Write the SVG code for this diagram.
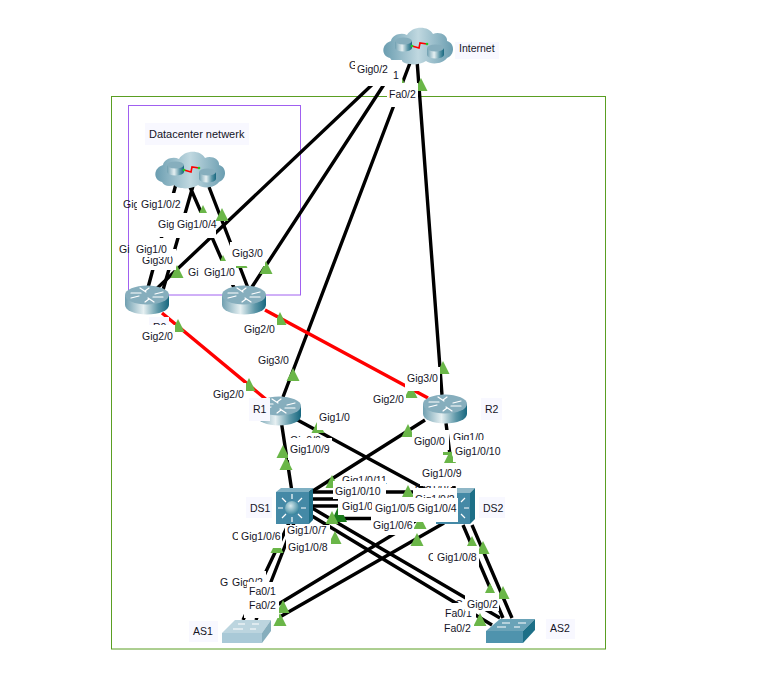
<svg xmlns="http://www.w3.org/2000/svg" width="767" height="685" viewBox="0 0 767 685">
<style>
text{font-family:"Liberation Sans",Arial,sans-serif;font-size:10.5px;fill:#14141f}
.k{stroke:#000;stroke-width:3.4;fill:none}
.r{stroke:#f00;stroke-width:3.4;fill:none}
.w{fill:#fff}
.n{fill:#f8f8ff}
.g{fill:#6ab648}
.a{stroke:#fff;stroke-width:1.200;fill:none}
</style>
<defs>
<linearGradient id="cyl" x1="0" x2="1" y1="0" y2="0"><stop offset="0" stop-color="#6f9fb0"/><stop offset=".42" stop-color="#e6f0f2"/><stop offset=".75" stop-color="#5d97a8"/><stop offset="1" stop-color="#17677f"/></linearGradient>
<linearGradient id="cl" x1="0" x2="1" y1="0" y2="0"><stop offset="0" stop-color="#6a9db0"/><stop offset=".5" stop-color="#c0d8e0"/><stop offset="1" stop-color="#6a9db0"/></linearGradient>
<radialGradient id="sp" cx=".4" cy=".35" r=".7"><stop offset="0" stop-color="#d8eaee"/><stop offset="1" stop-color="#2f7f98"/></radialGradient>
<path id="t" class="g" d="M0-7L6.500 6H-6.500Z"/>
<g id="rt">
<path d="M0 10V20A22 9.500 0 0 0 44 20V10Z" fill="url(#cyl)"/>
<ellipse cx="22" cy="10" rx="22" ry="9.500" fill="#86aebd"/>
<path class="a" d="M6 13L14 11M38 7L30 9M15 3L21 7M29 17L23 13M24 3L20 6M20 17L24 14M6 8H16M28 12H38" stroke-linecap="round"/>
</g>
<g id="mr">
<path d="M0 4V11A8.500 3.500 0 0 0 17 11V4Z" fill="url(#cyl)"/><ellipse cx="8.500" cy="4" rx="8.500" ry="3.500" fill="#86aebd"/>
</g>
<g id="cloud">
<path d="M7 32C-2 30-2 18 8 15C9 9 18 6 24 9C29 0 45-1 50 8C56 5 65 9 64 15C72 17 72 29 64 32C60 38 48 39 43 35C36 40 22 39 19 35C14 37 9 36 7 32Z" fill="url(#cl)"/>
<use href="#mr" x="12" y="11"/><use href="#mr" x="44" y="18"/>
<path d="M29 20L36 22L37 17L44 18" stroke="#f00" stroke-width="1.600" fill="none"/>
<circle cx="29" cy="20" r="1.300" fill="#2c2"/><circle cx="44" cy="18" r="1.300" fill="#2c2"/>
</g>
<g id="arrows"><path class="a" d="M0-14V-9M0 9V14M-14 0H-9M9 0H14M-10-10L-6-6M10-10L6-6M-10 10L-6 6M10 10L6 6" stroke-width="1.600"/></g>
</defs>
<rect x="111.500" y="96.500" width="494" height="552.500" fill="none" stroke="#5a9e22"/>
<rect x="128.500" y="105.500" width="172" height="189.500" fill="none" stroke="#a060f0"/>
<g id="connectors">
<path class="k" d="M395 63L150 295M398 63L250 290M413 55L283 397M417 60L442 395"/>
<path class="k" d="M176 184L146 295M193 186L163 290M190 187L235 290M209 187L248 288"/>
<path class="r" d="M162 313L268 401M265 310L428 398"/>
<path class="k" d="M281 420L292 492M292 417L445 500M425 420L308 494M446 423L455 495"/>
<path class="k" d="M310 492H440M310 499H440M310 506H440M335 518.500H440"/>
<path class="k" d="M312 508L500 618M312 516L492 625M445 503L272 608M444 523L278 618"/>
<path class="k" d="M289 523L243 620M294 523L256 620M463 525L503 618M472 525L512 618"/>
</g>
<g id="markers">
<use href="#t" x="421" y="85"/><use href="#t" x="402" y="85"/>
<use href="#t" x="203" y="212"/><use href="#t" x="222" y="215"/>
<use href="#t" x="177" y="272"/><use href="#t" x="223" y="262"/><use href="#t" x="241" y="262"/><use href="#t" x="266" y="268"/>
<use href="#t" x="280" y="319"/><use href="#t" x="178" y="326"/>
<use href="#t" x="249" y="385"/><use href="#t" x="293" y="375"/><use href="#t" x="318" y="427"/><use href="#t" x="283" y="452"/><use href="#t" x="286" y="464"/>
<use href="#t" x="443" y="368"/><use href="#t" x="411" y="392"/><use href="#t" x="408" y="431"/>
<path class="g" d="M443 452H452V455H443ZM448 458H455V463H448Z"/>
<use href="#t" x="332" y="482"/><path d="M339 505L347 522H331Z" fill="#1a7a1a"/><use href="#t" x="332" y="518"/><use href="#t" x="335" y="538"/>
<use href="#t" x="450" y="458"/><use href="#t" x="408" y="492"/><use href="#t" x="420" y="523"/><use href="#t" x="417" y="540"/><use href="#t" x="472" y="543"/><use href="#t" x="483" y="548"/>
<use href="#t" x="277" y="547"/><use href="#t" x="283" y="607"/><use href="#t" x="280" y="620"/>
<use href="#t" x="490" y="590"/><use href="#t" x="503" y="593"/><use href="#t" x="480" y="620"/>
</g>
<g id="Internet"><use href="#cloud" x="383" y="26"/><rect class="n" x="455" y="42" width="44" height="17"/><text x="459" y="52">Internet</text></g>
<g id="Datacenter"><use href="#cloud" x="155" y="150"/><rect class="n" x="145" y="123" width="104" height="22"/><text x="149" y="138" style="font-size:11px">Datacenter netwerk</text></g>
<g id="R0"><use href="#rt" x="125" y="285"/><rect class="n" x="149" y="317" width="20" height="12"/><text x="153" y="331">R0</text></g>
<g id="R3"><use href="#rt" x="222" y="285"/></g>
<g id="R1"><use href="#rt" x="257" y="396"/><rect class="n" x="249" y="398" width="21" height="23"/><text x="253" y="413">R1</text></g>
<g id="R2"><use href="#rt" x="423" y="394"/><rect class="n" x="481" y="398" width="21" height="22"/><text x="485" y="413">R2</text></g>
<g id="DS1"><path d="M276 492L281 488H313L309 492Z" fill="#7fb0c3"/><path d="M309 492L313 488V520L309 524Z" fill="#1d6f87"/><rect x="276" y="492" width="33" height="32" fill="#4489a6"/><use href="#arrows" x="292" y="508"/><circle cx="292" cy="508" r="7" fill="url(#sp)"/><rect class="n" x="246" y="497" width="26" height="21"/><text x="250" y="512">DS1</text></g>
<g id="DS2"><path d="M436 493L441 488H475L470 493Z" fill="#8fb7c7"/><path d="M470 493L475 488V519L470 524Z" fill="#1d6f87"/><rect x="436" y="493" width="34" height="31" fill="#4489a6"/><use href="#arrows" x="455" y="508"/><rect class="n" x="479" y="497" width="26" height="21"/><text x="483" y="512">DS2</text></g>
<g id="AS1"><path d="M222 633L235 620H271L262 633Z" fill="#bcd5df"/><rect x="222" y="633" width="40" height="10" fill="#a9c9d7"/><path d="M262 633L271 620V631L262 643Z" fill="#86aebd"/><path class="a" d="M238 624H245M252 624H259M233 629H243M250 629H256" stroke-width="1"/><rect class="n" x="189" y="621" width="29" height="21"/><text x="193" y="635">AS1</text></g>
<g id="AS2"><path d="M486 631L500 619H535L523 631Z" fill="#6aa3b8"/><rect x="486" y="631" width="37" height="12" fill="#4f93ad"/><path d="M523 631L535 619V630L523 643Z" fill="#1d6f87"/><path class="a" d="M502 623H510M518 623H526M497 627H506M514 627H520" stroke-width="1"/><rect class="n" x="546" y="619" width="29" height="20"/><text x="550" y="632">AS2</text></g>
<g id="labels">
<text x="349" y="69">G</text>
<rect class="w" x="385" y="60" width="17" height="29"/><text x="393" y="79">1</text>
<rect class="w" x="355" y="58" width="35" height="28"/><text x="357" y="73">Gig0/2</text>
<rect class="w" x="387" y="83" width="31" height="24"/><text x="389" y="98">Fa0/2</text>
<text x="123" y="208">Gig</text>
<rect class="w" x="137" y="193" width="46" height="20"/><text x="141" y="208">Gig1/0/2</text>
<rect class="w" x="155" y="213" width="21" height="24"/><text x="158" y="228">Gig</text>
<rect class="w" x="174" y="213" width="42" height="25"/><text x="177" y="228">Gig1/0/4</text>
<rect class="w" x="140" y="249" width="36" height="21"/><text x="142" y="264">Gig3/0</text>
<text x="119" y="253">Gi</text>
<rect class="w" x="131" y="238" width="40" height="19"/><text x="136" y="253">Gig1/0</text>
<rect class="w" x="230" y="242" width="35" height="24"/><text x="232" y="257">Gig3/0</text>
<text x="188" y="276">Gi</text>
<rect class="w" x="200" y="261" width="36" height="24"/><text x="204" y="276">Gig1/0</text>
<rect class="w" x="140" y="325" width="35" height="20"/><text x="142" y="340">Gig2/0</text>
<rect class="w" x="242" y="318" width="35" height="22"/><text x="244" y="333">Gig2/0</text>
<rect class="w" x="256" y="349" width="35" height="20"/><text x="258" y="364">Gig3/0</text>
<rect class="w" x="211" y="383" width="35" height="20"/><text x="213" y="398">Gig2/0</text>
<rect class="w" x="317" y="406" width="35" height="24"/><text x="319" y="421">Gig1/0</text>
<text x="290" y="444">Gig0/0</text>
<rect class="w" x="288" y="438" width="44" height="22"/><text x="290" y="453">Gig1/0/9</text>
<rect class="w" x="405" y="367" width="35" height="24"/><text x="407" y="382">Gig3/0</text>
<rect class="w" x="371" y="388" width="35" height="24"/><text x="373" y="403">Gig2/0</text>
<rect class="w" x="412" y="430" width="37" height="20"/><text x="414" y="445">Gig0/0</text>
<text x="453" y="441">Gig1/0</text>
<rect class="w" x="453" y="440" width="50" height="22"/><text x="455" y="455">Gig1/0/10</text>
<text x="342" y="484">Gig1/0/11</text>
<rect class="w" x="333" y="481" width="53" height="18"/><text x="335" y="495">Gig1/0/10</text>
<rect class="w" x="338" y="497" width="35" height="18"/><text x="342" y="510">Gig1/0/1</text>
<rect class="w" x="238" y="525" width="44" height="23"/><text x="241" y="540">Gig1/0/6</text>
<text x="232" y="540">C</text>
<rect class="w" x="238" y="525" width="3" height="23"/>
<rect class="w" x="285" y="525" width="45" height="14"/><text x="287" y="534">Gig1/0/7</text>
<rect class="w" x="286" y="538" width="45" height="17"/><text x="288" y="551">Gig1/0/8</text>
<text x="415" y="492">Gig1/0/3</text>
<rect class="w" x="413" y="488" width="44" height="10"/><text x="415" y="503">Gig1/0/2</text>
<rect class="w" x="420" y="463" width="44" height="23"/><text x="422" y="477">Gig1/0/9</text>
<rect class="w" x="413" y="498" width="45" height="24"/><text x="417" y="512">Gig1/0/4</text>
<rect class="w" x="372" y="497" width="43" height="20"/><text x="375" y="512">Gig1/0/5</text>
<rect class="w" x="371" y="516" width="43" height="19"/><text x="373" y="529">Gig1/0/6</text>
<text x="428" y="561">C</text>
<rect class="w" x="433" y="546" width="46" height="24"/><text x="437" y="561">Gig1/0/8</text>
<rect class="w" x="217" y="571" width="49" height="24"/><text x="220" y="586">G</text><text x="232" y="586">Gig0/2</text>
<rect class="w" x="247" y="582" width="32" height="24"/><text x="249" y="595">Fa0/1</text>
<rect class="w" x="244" y="596" width="35" height="22"/><text x="249" y="609">Fa0/2</text>
<text x="455" y="608">C</text>
<rect class="w" x="443" y="603" width="33" height="17"/><text x="445" y="617">Fa0/1</text>
<rect class="w" x="465" y="593" width="34" height="18"/><text x="467" y="608">Gig0/2</text>
<rect class="w" x="442" y="620" width="32" height="15"/><text x="444" y="632">Fa0/2</text>
</g>
</svg>
